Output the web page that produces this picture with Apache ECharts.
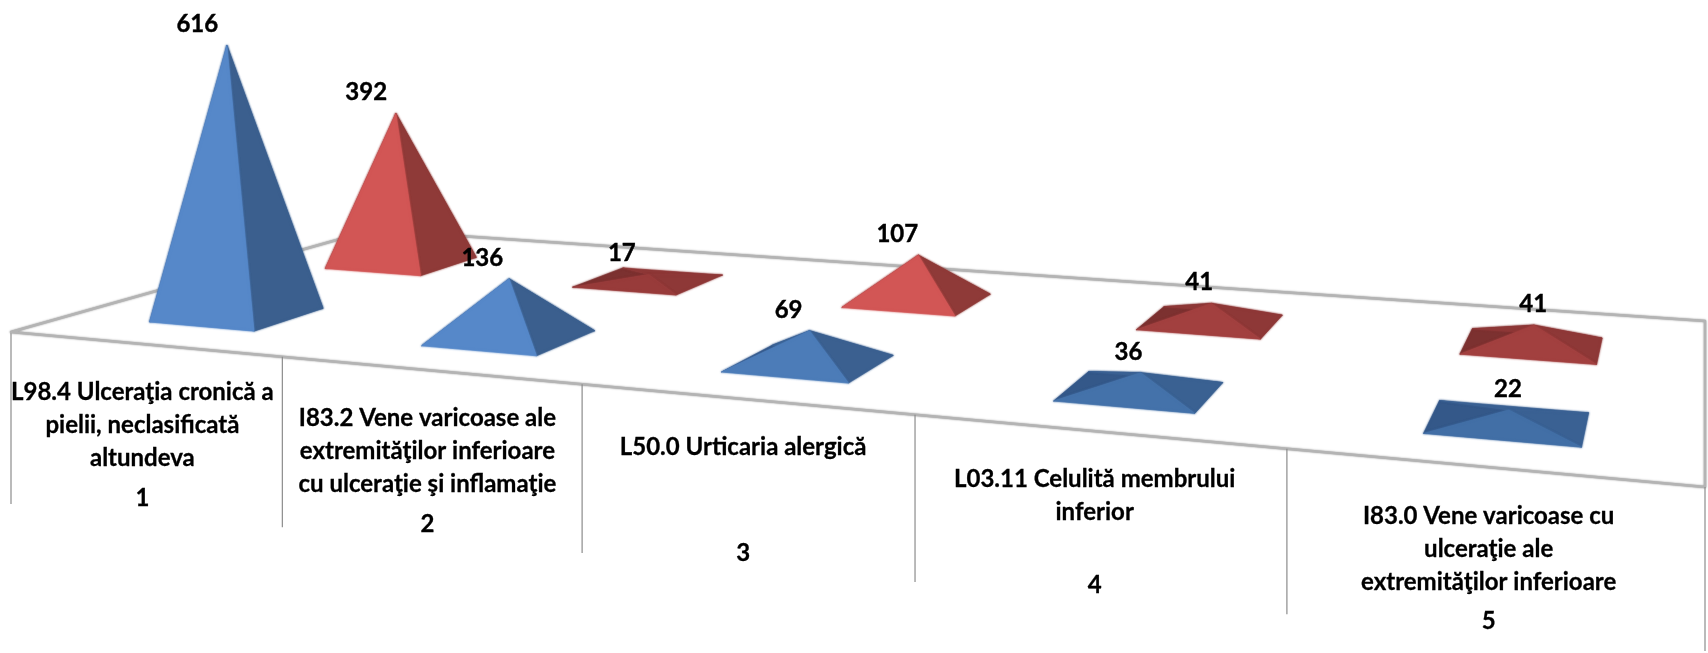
<!DOCTYPE html>
<html><head><meta charset="utf-8">
<style>html,body{margin:0;padding:0;background:#fff}#c{width:1708px;height:653px}</style>
<script src="https://cdn.jsdelivr.net/npm/echarts@6/dist/echarts.min.js"></script>
</head><body><div id="c"></div>
<script>
const categories = ['L98.4 Ulceraţia cronică a\npielii, neclasificată\naltundeva','I83.2 Vene varicoase ale\nextremităţilor inferioare\ncu ulceraţie şi inflamaţie','L50.0 Urticaria alergică','L03.11 Celulită membrului\ninferior','I83.0 Vene varicoase cu\nulceraţie ale\nextremităţilor inferioare'];
const ranks = ['1','2','3','4','5'];
const blueValues = [616,136,69,36,22];
const redValues = [392,17,107,41,41];

const W=1708,H=653;
// perspective of the floor plane
const Q=[[11,332],[1705,487],[1705,321],[372,230]];
const [x0,y0]=Q[0],[x1,y1]=Q[1],[x2,y2]=Q[2],[x3,y3]=Q[3];
const dx1=x1-x2,dx2=x3-x2,sx=x0-x1+x2-x3,dy1=y1-y2,dy2=y3-y2,sy=y0-y1+y2-y3;
const det=dx1*dy2-dx2*dy1,g=(sx*dy2-dx2*sy)/det,h=(dx1*sy-sx*dy1)/det;
const a=x1-x0+g*x1,b=x3-x0+h*x3,d=y1-y0+g*y1,e=y3-y0+h*y3;
function P(u,v){const w=g*u+h*v+1;return [(a*u+b*v+x0)/w,(d*u+e*v+y0)/w];}
const hex=s=>[1,3,5].map(i=>parseInt(s.substr(i,2),16));
function mix(p,q,t){t=Math.max(0,Math.min(1,t));const A=hex(p),B=hex(q);return 'rgb('+A.map((c,i)=>Math.round(c+(B[i]-c)*t)).join(',')+')';}
const blueStyle={du:.0012,v0:.135,v1:.32,front:['#426FA6','#5688C9'],right:['#3A6193','#3B5F8E'],bl:'#345889',br:'#3A6193'};
const redStyle={du:0,v0:.62,v1:.81,front:['#983B3A','#D25655'],right:['#8E3837','#8F3A38'],bl:'#7C3130',br:'#8E3837'};

function pyramid(style){
  return function(params,api){
    const i=api.value(0),val=api.value(1);
    const c=api.coord([i,val]),z=api.coord([i,0]);
    const u=c[0]/W+style.du,hu=.0395,{v0,v1}=style;
    const L=P(u-hu,v0),F=P(u+hu,v0),R=P(u+hu,v1),B=P(u-hu,v1),C=P(u,(v0+v1)/2);
    const bw=Math.hypot(F[0]-L[0],F[1]-L[1]);
    const ht=(z[1]-c[1])*.00422*bw*(.87+.12*val/616);
    const A=[C[0]+ht*(u-.35)*.16,C[1]-ht];
    const t=(ht/bw-.1)/.3;
    const face=(pts,col)=>({type:'polygon',shape:{points:pts},style:{fill:col,stroke:col,lineWidth:.6,shadowBlur:2,shadowColor:col}});
    return {type:'group',children:[
      face([L,B,A],style.bl),
      face([B,R,A],style.br),
      face([F,R,A],mix(style.right[0],style.right[1],t)),
      face([L,F,A],mix(style.front[0],style.front[1],t)),
      {type:'text',style:{x:A[0]-30+36*u*u,y:A[1]-21,text:String(val),font:'bold 24px Lato',fill:'#000',stroke:'#000',lineWidth:.4,textAlign:'center',textVerticalAlign:'middle'},z2:10}
    ]};
  };
}
function floorItem(params,api){
  const i=api.value(0),c=api.coord([i,0]),band=api.size([1,0])[0];
  const u0=(c[0]-band/2)/W,uc=c[0]/W,kids=[];
  const tick=u=>{const p=P(u,0);return {type:'line',shape:{x1:p[0],y1:p[1],x2:p[0],y2:p[1]+172-8*u},style:{stroke:'#8c8c8c',lineWidth:1.2}};};
  kids.push(tick(u0));
  if(i===categories.length-1)kids.push(tick(uc+band/2/W));
  if(i===0){
    const pts=[P(0,0),P(0,1),P(1,1),P(1,0)];
    kids.push({type:'polygon',shape:{points:pts},style:{fill:'#fff',stroke:'#b4b4b4',lineWidth:2.4,lineJoin:'round',shadowBlur:2,shadowColor:'#999'}});
  }
  const f=P(uc,0);
  kids.push({type:'text',style:{x:f[0]-1,y:f[1]+32,text:categories[i],font:'bold 24px Lato',lineHeight:33,fill:'#000',stroke:'#000',lineWidth:.3,textAlign:'center',textVerticalAlign:'top'}});
  kids.push({type:'text',style:{x:f[0]-1,y:f[1]+154,text:ranks[i],font:'bold 24px Lato',fill:'#000',stroke:'#000',lineWidth:.3,textAlign:'center',textVerticalAlign:'middle'}});
  return {type:'group',children:kids};
}
const chart=echarts.init(document.getElementById('c'),null,{renderer:'canvas'});
chart.setOption({
  animation:false,
  backgroundColor:'#fff',
  grid:{left:0,top:0,width:W,height:H},
  xAxis:{type:'category',data:ranks,show:false},
  yAxis:{type:'value',min:0,max:H,show:false},
  series:[
    {type:'custom',name:'floor',renderItem:floorItem,data:categories.map((_,i)=>[i,0]),encode:{x:0,y:1},silent:true},
    {type:'custom',name:'Serie 2',renderItem:pyramid(redStyle),data:redValues.map((v,i)=>[i,v]),encode:{x:0,y:1}},
    {type:'custom',name:'Serie 1',renderItem:pyramid(blueStyle),data:blueValues.map((v,i)=>[i,v]),encode:{x:0,y:1}}
  ]
});
</script></body></html>
